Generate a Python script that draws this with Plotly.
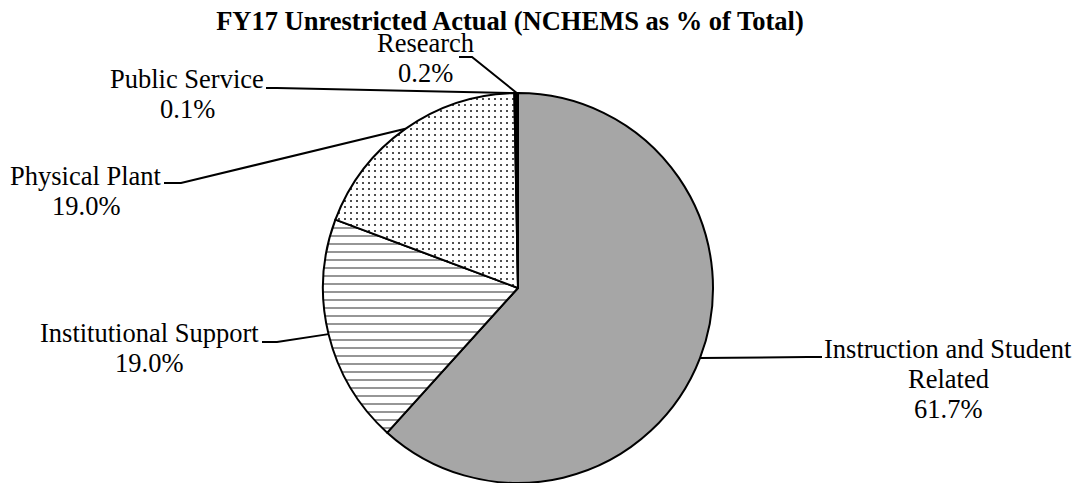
import math
import plotly.graph_objects as go

# ---------------- data ----------------
categories = ["Instruction and Student Related", "Institutional Support",
              "Physical Plant", "Public Service", "Research"]
values = [61.7, 19.0, 19.0, 0.1, 0.2]
label_names = ["Instruction and Student<br>Related", "Institutional Support",
               "Physical Plant", "Public Service", "Research"]
title_text = "FY17 Unrestricted Actual (NCHEMS as % of Total)"

# ---------------- styles / layout ----------------
W, H = 1078, 483
FONT = "Liberation Serif, Times New Roman, serif"
FS = 26.5
LINE_H = 30

fill_colors = ["#A6A6A6", "#FFFFFF", "#FFFFFF", "#000000", "#000000"]
pat_shape = ["", "-", ".", "", ""]
pat_fg = ["#A6A6A6", "#969696", "#222222", "#000000", "#000000"]
pat_bg = ["#A6A6A6", "#FFFFFF", "#FFFFFF", "#000000", "#000000"]
pat_size = [8, 8, 6, 8, 8]
pat_sol = [0.3, 0.25, 0.1, 0.3, 0.3]

# pie geometry (pixels)
CX, R = 518, 195
CY = H - R
# label layout (pixels): text centre x, first baseline y, leader start, elbow
label_layout = {
    "Instruction and Student Related": dict(x=948, base=358, start=(822, 357), elbow=(808, 357)),
    "Institutional Support": dict(x=149, base=342, start=(262, 342), elbow=(277, 342)),
    "Physical Plant": dict(x=86, base=185, start=(164, 183), elbow=(181, 183)),
    "Public Service": dict(x=187, base=88, start=(266, 88), elbow=(277, 88)),
    "Research": dict(x=425, base=52, start=(459, 57), elbow=(472, 57)),
}


def px(x):
    return x / W


def py(y):
    return 1 - y / H


fig = go.Figure(go.Pie(
    labels=categories, values=values, sort=False, direction="clockwise",
    rotation=0, textinfo="none", hoverinfo="skip", showlegend=False,
    marker=dict(colors=fill_colors, line=dict(color="black", width=2),
                pattern=dict(shape=pat_shape, fgcolor=pat_fg, bgcolor=pat_bg,
                             size=pat_size, solidity=pat_sol, fillmode="replace")),
    domain=dict(x=[px(CX - R), px(CX + R)], y=[0, (2 * R) / H]),
))

total = sum(values)
cum = 0.0
shapes = []
annotations = []
for cat, val, name in zip(categories, values, label_names):
    mid = (cum + val / 2) / total * 2 * math.pi
    cum += val
    ex = CX + R * math.sin(mid)
    ey = CY - R * math.cos(mid)
    lay = label_layout[cat]
    (sx, sy), (bx, by) = lay["start"], lay["elbow"]
    shapes.append(dict(type="path", xref="paper", yref="paper",
                       path=f"M {px(sx)} {py(sy)} L {px(bx)} {py(by)} L {px(ex)} {py(ey)}",
                       line=dict(color="black", width=2)))
    lines = name.split("<br>") + [f"{val:.1f}%"]
    for i, t in enumerate(lines):
        base = lay["base"] + i * LINE_H
        annotations.append(dict(text=t, x=px(lay["x"]), y=py(base - 9),
                                xref="paper", yref="paper", xanchor="center",
                                yanchor="middle", showarrow=False,
                                font=dict(family=FONT, size=FS, color="black")))

fig.update_layout(
    width=W, height=H,
    margin=dict(l=0, r=0, t=0, b=0),
    paper_bgcolor="white", plot_bgcolor="white",
    title=dict(text=f"<b>{title_text}</b>", x=510 / W, xanchor="center",
               y=1 - 21 / H, yanchor="middle", yref="container", xref="container",
               font=dict(family=FONT, size=FS, color="black")),
    shapes=shapes, annotations=annotations,
)

fig.write_html("out.html", config={"displayModeBar": False},
               post_script="document.body.style.margin='0px';document.body.style.overflow='hidden';")
